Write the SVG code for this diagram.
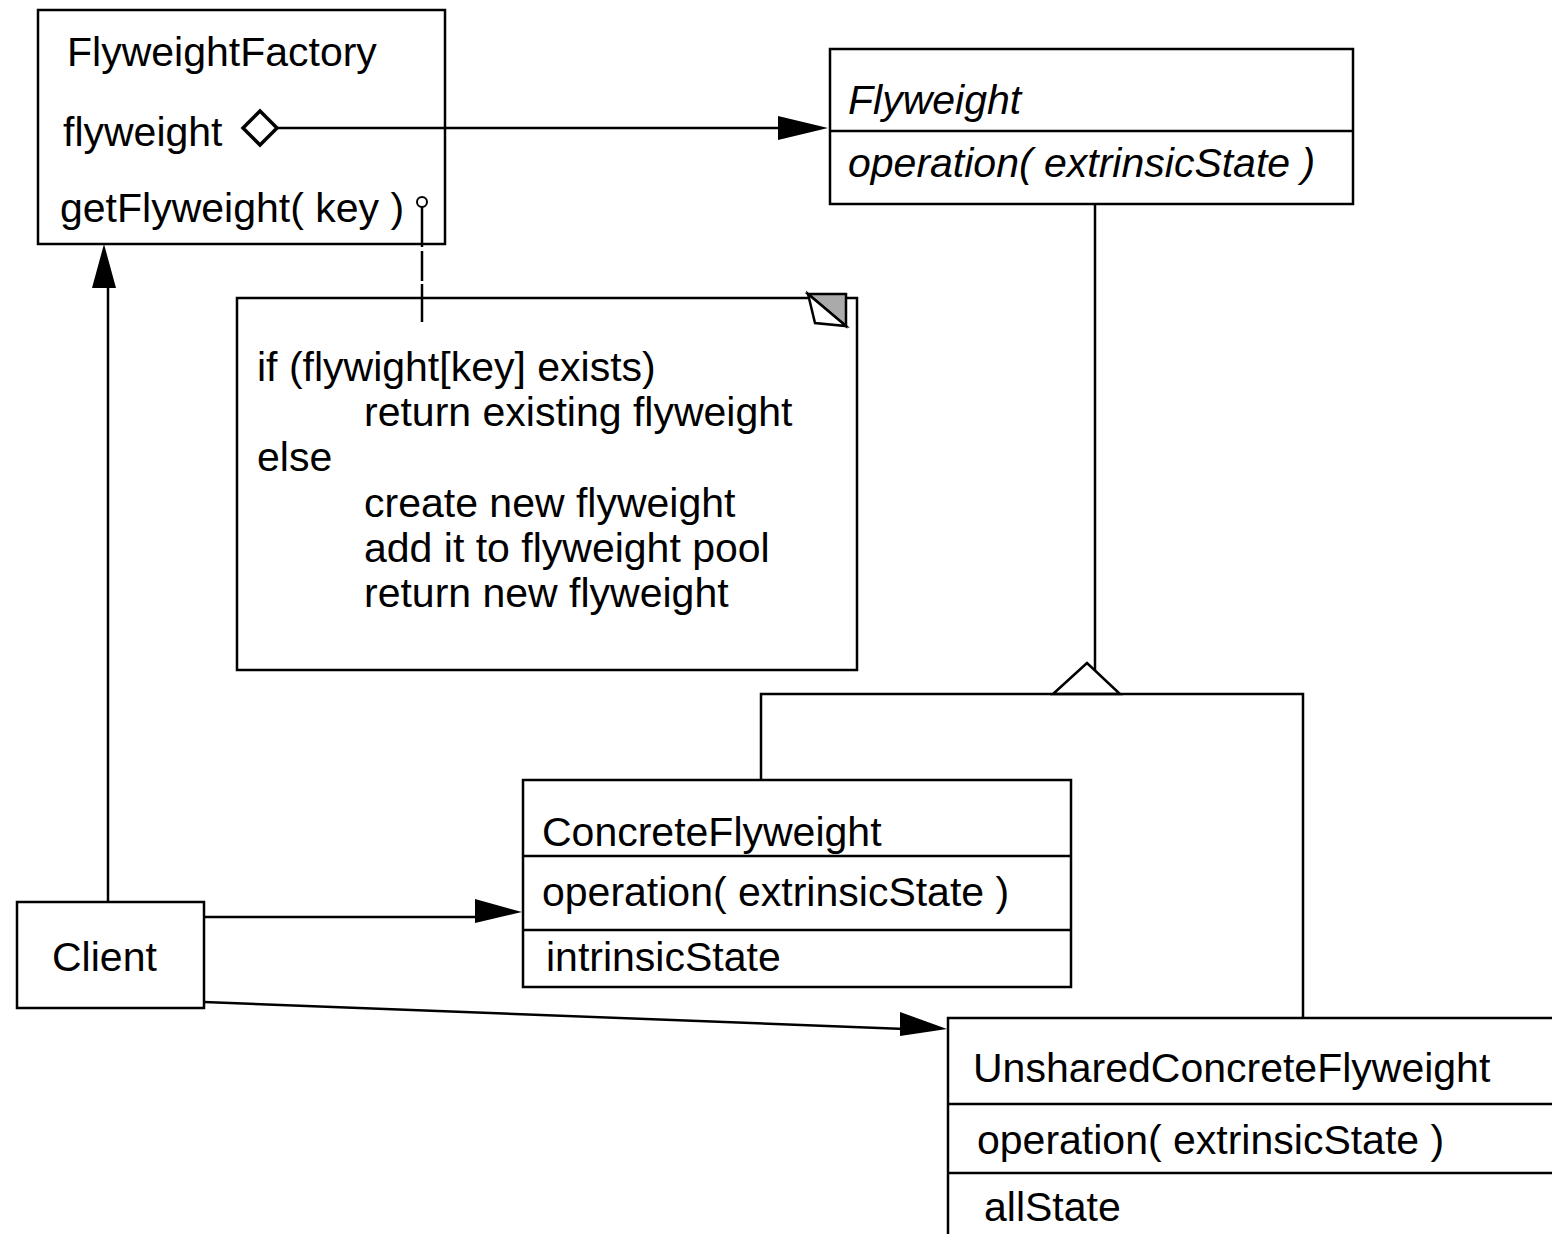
<svg xmlns="http://www.w3.org/2000/svg" width="1552" height="1234" viewBox="0 0 1552 1234">
<style>
.box{fill:#fff;stroke:#000;stroke-width:2.5}
.ln{fill:none;stroke:#000;stroke-width:2.5}
.t{font-family:"Liberation Sans",Arial,sans-serif;font-size:41px;fill:#000}
.i{font-style:italic}
.ah{fill:#000;stroke:none}
</style>
<rect width="1552" height="1234" fill="#fff"/>
<g id="flyweightFactory">
<rect class="box" x="38" y="10" width="407" height="234"/>
<text class="t" x="67" y="66">FlyweightFactory</text>
<text class="t" x="63" y="146">flyweight</text>
<text class="t" x="60" y="222">getFlyweight( key )</text>
</g>
<g id="note">
<path class="box" d="M808,298 L237,298 L237,670 L857,670 L857,298 L846,298"/>
<polygon fill="#aaa" stroke="#000" stroke-width="2.5" points="808,294 846,294 846,326"/>
<polygon fill="#fff" stroke="#000" stroke-width="2.5" points="808,294 815,323 846,326"/>
<text class="t" x="257" y="381">if (flywight[key] exists)</text>
<text class="t" x="364" y="426">return existing flyweight</text>
<text class="t" x="257" y="471">else</text>
<text class="t" x="364" y="517">create new flyweight</text>
<text class="t" x="364" y="562">add it to flyweight pool</text>
<text class="t" x="364" y="607">return new flyweight</text>
</g>
<g id="flyweight">
<rect class="box" x="830" y="49" width="523" height="155"/>
<line class="ln" x1="830" y1="131" x2="1353" y2="131"/>
<text class="t i" x="848" y="114">Flyweight</text>
<text class="t i" x="848" y="177">operation( extrinsicState )</text>
</g>
<g id="concreteFlyweight">
<rect class="box" x="523" y="780" width="548" height="207"/>
<line class="ln" x1="523" y1="856" x2="1071" y2="856"/>
<line class="ln" x1="523" y1="930" x2="1071" y2="930"/>
<text class="t" x="542" y="846">ConcreteFlyweight</text>
<text class="t" x="542" y="906">operation( extrinsicState )</text>
<text class="t" x="546" y="971">intrinsicState</text>
</g>
<g id="client">
<rect class="box" x="17" y="902" width="187" height="106"/>
<text class="t" x="52" y="971">Client</text>
</g>
<g id="unsharedConcreteFlyweight">
<rect class="box" x="948" y="1018" width="620" height="230"/>
<line class="ln" x1="948" y1="1104" x2="1560" y2="1104"/>
<line class="ln" x1="948" y1="1173" x2="1560" y2="1173"/>
<text class="t" x="973" y="1082">UnsharedConcreteFlyweight</text>
<text class="t" x="977" y="1154">operation( extrinsicState )</text>
<text class="t" x="984" y="1221">allState</text>
</g>
<g id="connectors">
<line class="ln" x1="277" y1="128" x2="790" y2="128"/>
<polygon class="ah" points="778,116 828,128 778,140"/>
<polygon fill="#fff" stroke="#000" stroke-width="3.5" points="243,128 260,111 277,128 260,145"/>
<line class="ln" x1="422" y1="207" x2="422" y2="322" stroke-dasharray="40,4,30,3,50"/>
<circle cx="422" cy="202" r="5" fill="#fff" stroke="#000" stroke-width="2"/>
<line class="ln" x1="1095" y1="204" x2="1095" y2="673"/>
<polygon fill="#fff" stroke="#000" stroke-width="2.5" points="1053,694 1087,663 1120,694"/>
<polyline class="ln" points="761,780 761,694 1303,694 1303,1018"/>
<line class="ln" x1="108" y1="902" x2="108" y2="280"/>
<polygon class="ah" points="104,244 116,288 92,288"/>
<line class="ln" x1="204" y1="917" x2="480" y2="917"/>
<polygon class="ah" points="475,899 522,912 475,923"/>
<line class="ln" x1="204" y1="1002" x2="905" y2="1029"/>
<polygon class="ah" points="900,1012 947,1029 900,1036"/>
</g>
</svg>
